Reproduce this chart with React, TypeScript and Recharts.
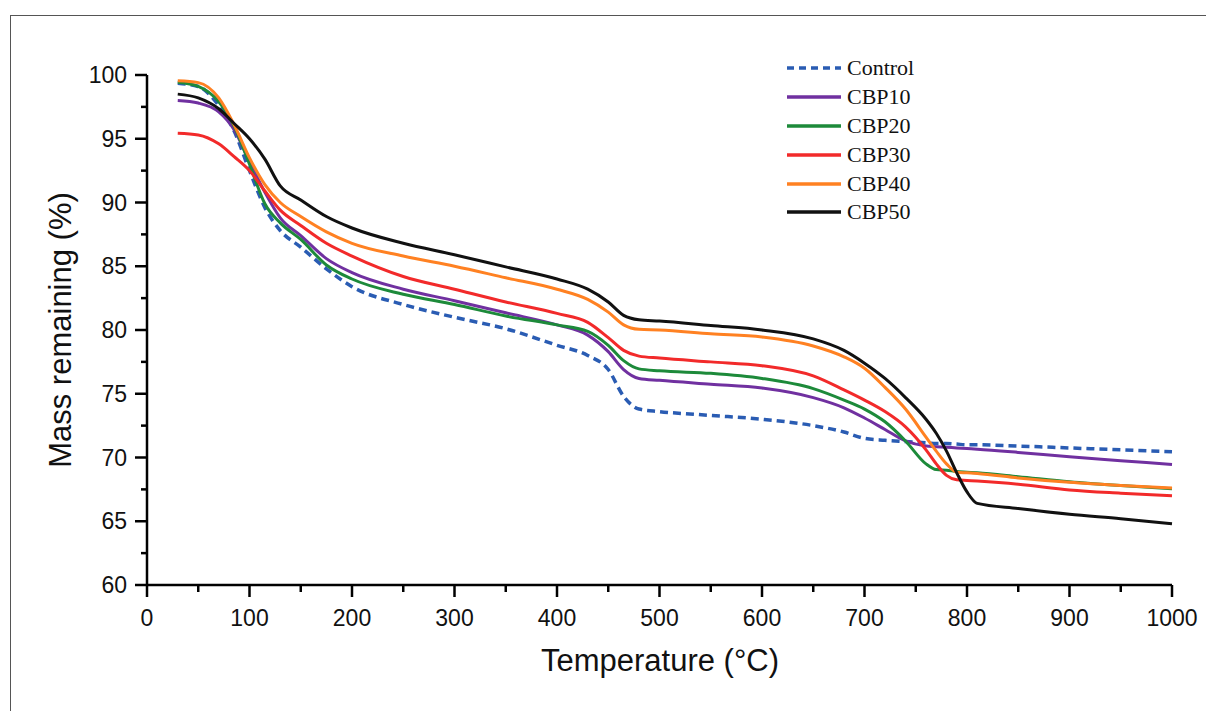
import { LineChart, Line, XAxis, YAxis, Legend } from 'recharts'

const temps = [30, 50, 70, 85, 100, 115, 130, 150, 175, 200, 250, 300, 350, 400, 430, 450, 465, 480, 500, 550, 600, 650, 680, 700, 720, 740, 760, 770, 780, 790, 800, 810, 850, 900, 950, 1000]

const control = [99.35, 99.1, 97.6, 95.6, 92.5, 89.6, 87.8, 86.5, 84.8, 83.4, 82.0, 81.0, 80.1, 78.8, 78.0, 76.9, 74.8, 73.8, 73.6, 73.3, 73.0, 72.5, 72.0, 71.5, 71.35, 71.25, 71.15, 71.1, 71.1, 71.05, 71.0, 71.0, 70.9, 70.75, 70.6, 70.45]
const cbp10 = [98.0, 97.8, 97.1, 95.7, 93.2, 90.8, 88.8, 87.4, 85.6, 84.5, 83.2, 82.3, 81.35, 80.4, 79.6, 78.3, 76.9, 76.2, 76.05, 75.75, 75.45, 74.7, 73.9, 73.1, 72.2, 71.3, 70.9, 70.85, 70.8, 70.75, 70.7, 70.65, 70.4, 70.05, 69.75, 69.45]
const cbp20 = [99.43, 99.1, 97.9, 96.0, 93.0, 89.9, 88.4, 87.1, 85.1, 84.0, 82.8, 82.0, 81.1, 80.4, 79.9, 78.8, 77.6, 76.95, 76.8, 76.6, 76.2, 75.4, 74.5, 73.8, 72.8, 71.3, 69.5, 69.05, 69.0, 68.9, 68.85, 68.8, 68.5, 68.1, 67.8, 67.55]
const cbp30 = [95.43, 95.3, 94.6, 93.6, 92.5, 90.9, 89.4, 88.2, 86.8, 85.8, 84.2, 83.2, 82.2, 81.3, 80.6, 79.4, 78.4, 77.95, 77.8, 77.5, 77.2, 76.4, 75.3, 74.5, 73.6, 72.4, 70.6, 69.5, 68.6, 68.25, 68.2, 68.15, 67.9, 67.45, 67.2, 67.0]
const cbp40 = [99.55, 99.4, 98.2, 96.1, 93.5, 91.4, 90.0, 88.9, 87.7, 86.8, 85.8, 85.0, 84.1, 83.2, 82.4, 81.4, 80.4, 80.05, 80.0, 79.7, 79.45, 78.75, 77.9, 77.0, 75.5, 73.8, 71.6, 70.5, 69.5, 68.85, 68.8, 68.75, 68.4, 68.05, 67.8, 67.6]
const cbp50 = [98.5, 98.2, 97.35, 96.2, 95.0, 93.4, 91.3, 90.2, 88.9, 88.0, 86.8, 85.9, 84.95, 84.0, 83.2, 82.2, 81.15, 80.8, 80.7, 80.35, 80.0, 79.3, 78.4, 77.4, 76.2, 74.7, 73.0, 71.9, 70.5, 68.8, 67.3, 66.4, 66.0, 65.55, 65.2, 64.8]

const seriesNames = ['Control', 'CBP10', 'CBP20', 'CBP30', 'CBP40', 'CBP50']

const xTicks = [0, 50, 100, 150, 200, 250, 300, 350, 400, 450, 500, 550, 600, 650, 700, 750, 800, 850, 900, 950, 1000]
const yTicks = [60, 62.5, 65, 67.5, 70, 72.5, 75, 77.5, 80, 82.5, 85, 87.5, 90, 92.5, 95, 97.5, 100]

const data = temps.map((t, i) => ({
  T: t,
  control: control[i],
  cbp10: cbp10[i],
  cbp20: cbp20[i],
  cbp30: cbp30[i],
  cbp40: cbp40[i],
  cbp50: cbp50[i],
}))

const SANS = 'Arial, "Liberation Sans", sans-serif'
const SERIF = '"Times New Roman", "Liberation Serif", serif'

const XTick = ({ x, y, payload }: any) => {
  const major = payload.value % 100 === 0
  return (
    <g>
      <line x1={x} x2={x} y1={y} y2={y + (major ? 12 : 7)} stroke="#000" strokeWidth={2.5} />
      {major && (
        <text x={x} y={y + 41} textAnchor="middle" fontSize={23} fontFamily={SANS} fill="#111">
          {payload.value}
        </text>
      )}
    </g>
  )
}

const YTick = ({ x, y, payload }: any) => {
  const major = payload.value % 5 === 0
  return (
    <g>
      <line x1={x} x2={x - (major ? 12 : 6)} y1={y} y2={y} stroke="#000" strokeWidth={2.5} />
      {major && (
        <text x={x - 20} y={y + 8} textAnchor="end" fontSize={23} fontFamily={SANS} fill="#111">
          {payload.value}
        </text>
      )}
    </g>
  )
}

const LegendBox = ({ payload }: any) => {
  const items = [...(payload || [])].sort((a: any, b: any) => seriesNames.indexOf(a.value) - seriesNames.indexOf(b.value))
  return (
    <div>
      {items.map((p: any) => (
        <div key={p.value} style={{ display: 'flex', alignItems: 'center', height: 28.8 }}>
          <svg width={56} height={6} style={{ marginRight: 5 }}>
            <line
              x1={1} x2={55} y1={3} y2={3}
              stroke={p.color}
              strokeWidth={3.5}
              strokeDasharray={p.value === 'Control' ? '7 5' : undefined}
            />
          </svg>
          <span style={{ fontFamily: SERIF, fontSize: 22, color: '#111', lineHeight: 1 }}>{p.value}</span>
        </div>
      ))}
    </div>
  )
}

export default function App() {
  return (
    <div style={{ position: 'fixed', left: 0, top: 0, width: 1206, height: 711, background: '#fff', overflow: 'hidden' }}>
      <div style={{ position: 'absolute', left: 10, top: 15, width: 1300, height: 800, borderLeft: '1.5px solid #555', borderTop: '1.5px solid #555' }} />
      <LineChart width={1206} height={711} data={data} margin={{ top: 75, right: 34, bottom: 86, left: 87 }}>
        <XAxis
          dataKey="T"
          type="number"
          domain={[0, 1000]}
          ticks={xTicks}
          interval={0}
          height={40}
          tickSize={0}
          tickMargin={0}
          tickLine={false}
          axisLine={{ stroke: '#000', strokeWidth: 2.5 }}
          tick={XTick}
        />
        <YAxis
          type="number"
          domain={[60, 100]}
          ticks={yTicks}
          interval={0}
          width={60}
          tickSize={0}
          tickMargin={0}
          tickLine={false}
          axisLine={{ stroke: '#000', strokeWidth: 2.5 }}
          tick={YTick}
        />
        <Legend
          layout="vertical"
          verticalAlign="middle"
          align="center"
          wrapperStyle={{ position: 'absolute', left: 786, top: 54, width: 200, margin: 0 }}
          content={LegendBox}
        />
        <Line name="Control" dataKey="control" type="monotone" stroke="#2a5cb3" strokeWidth={3.5} strokeDasharray="8 5" dot={false} isAnimationActive={false} />
        <Line name="CBP10" dataKey="cbp10" type="monotone" stroke="#7030a0" strokeWidth={3} dot={false} isAnimationActive={false} />
        <Line name="CBP20" dataKey="cbp20" type="monotone" stroke="#1d8a3a" strokeWidth={3} dot={false} isAnimationActive={false} />
        <Line name="CBP30" dataKey="cbp30" type="monotone" stroke="#f22a2a" strokeWidth={3} dot={false} isAnimationActive={false} />
        <Line name="CBP40" dataKey="cbp40" type="monotone" stroke="#ff8122" strokeWidth={3} dot={false} isAnimationActive={false} />
        <Line name="CBP50" dataKey="cbp50" type="monotone" stroke="#111111" strokeWidth={3} dot={false} isAnimationActive={false} />
      </LineChart>
      <div style={{ position: 'absolute', left: 0, width: 1206, top: 645, textAlign: 'center', paddingLeft: 114, boxSizing: 'border-box', fontFamily: SANS, fontSize: 31, color: '#111', lineHeight: 1 }}>
        Temperature (°C)
      </div>
      <div style={{ position: 'absolute', left: 60, top: 330, transform: 'translate(-50%, -50%) rotate(-90deg)', whiteSpace: 'nowrap', fontFamily: SANS, fontSize: 31, color: '#111', lineHeight: 1 }}>
        Mass remaining (%)
      </div>
    </div>
  )
}
